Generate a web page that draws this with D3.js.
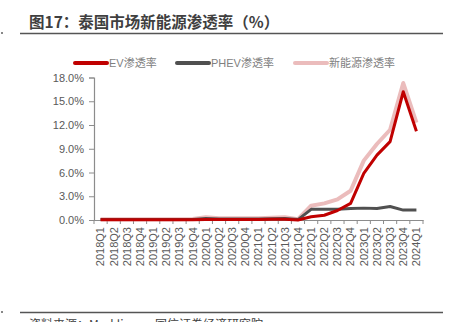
<!DOCTYPE html>
<html><head><meta charset="utf-8">
<script src="https://cdn.jsdelivr.net/npm/d3@7"></script>
<style>
html,body{margin:0;padding:0;background:#fff;}
svg{display:block;font-family:"Liberation Sans","Noto Sans CJK SC",Arial,sans-serif;}
</style></head>
<body>
<script>
const categories = ["2018Q1","2018Q2","2018Q3","2018Q4","2019Q1","2019Q2","2019Q3","2019Q4",
  "2020Q1","2020Q2","2020Q3","2020Q4","2021Q1","2021Q2","2021Q3","2021Q4",
  "2022Q1","2022Q2","2022Q3","2022Q4","2023Q1","2023Q2","2023Q3","2023Q4","2024Q1"];
const evValues   = [0.02,0.02,0.02,0.02,0.02,0.02,0.02,0.02,0.05,0.05,0.05,0.05,0.05,0.1,0.1,0.0,0.4,0.6,1.2,2.1,5.9,8.2,9.9,16.2,11.2];
const phevValues = [0.05,0.05,0.05,0.05,0.05,0.05,0.05,0.05,0.2,0.12,0.12,0.12,0.12,0.15,0.2,0.05,1.35,1.35,1.35,1.45,1.5,1.45,1.7,1.25,1.25];
const nevValues  = [0.1,0.1,0.1,0.1,0.1,0.1,0.1,0.12,0.35,0.22,0.22,0.22,0.22,0.3,0.35,0.1,1.8,2.1,2.6,3.7,7.5,9.6,11.4,17.3,12.3];
const yTicks = [0,3,6,9,12,15,18];
const seriesNames = ["EV渗透率","PHEV渗透率","新能源渗透率"];
const seriesColors = ["#c00000","#505050","#ebbcbc"];
const titleText = "图17：泰国市场新能源渗透率（%）";
const sourceText = "资料来源：Marklines，国信证券经济研究院";

const W = 457, H = 322;
const svg = d3.select("body").append("svg").attr("width", W).attr("height", H);

// Title
svg.append("text").attr("x", 29).attr("y", 28).text(titleText)
  .attr("font-size", 15.5).attr("font-weight", "bold").attr("fill", "#3f3f3f")
  .attr("font-family", "'Noto Sans CJK SC',sans-serif");
svg.append("line").attr("x1", 20).attr("x2", 443).attr("y1", 33.5).attr("y2", 33.5)
  .attr("stroke", "#555").attr("stroke-width", 1.5);
svg.append("rect").attr("x", 1).attr("y", 32).attr("width", 2).attr("height", 2).attr("fill", "#888");

// Footer
svg.append("line").attr("x1", 20).attr("x2", 443).attr("y1", 312.5).attr("y2", 312.5)
  .attr("stroke", "#555").attr("stroke-width", 1.5);
svg.append("rect").attr("x", 1).attr("y", 311).attr("width", 2).attr("height", 2).attr("fill", "#888");
svg.append("text").attr("x", 29).attr("y", 329).text(sourceText)
  .attr("font-size", 12).attr("fill", "#404040").attr("font-family", "'Noto Sans CJK SC',sans-serif");

// Scales
const x = d3.scaleBand().domain(categories).range([94, 423]).padding(0);
const y = d3.scaleLinear().domain([0, 18]).range([220, 77.5]);

// Y axis
const yAxis = svg.append("g").attr("transform", "translate(94,0)")
  .call(d3.axisLeft(y).tickValues(yTicks).tickFormat(d => d.toFixed(1) + "%").tickSize(5).tickPadding(5));
yAxis.select(".domain").attr("stroke", "#8c8c8c").attr("stroke-width", 1.2);
yAxis.selectAll(".tick line").attr("stroke", "#8c8c8c");
yAxis.selectAll(".tick text").attr("font-size", 11).attr("fill", "#595959")
  .attr("font-family", "'Liberation Sans',Arial,sans-serif");

// X axis
const xAxis = svg.append("g").attr("transform", "translate(0,220)")
  .call(d3.axisBottom(x).tickSize(0).tickPadding(0));
xAxis.select(".domain").attr("stroke", "#8c8c8c").attr("stroke-width", 1.2);
xAxis.selectAll(".tick text")
  .attr("font-size", 11).attr("fill", "#595959")
  .attr("font-family", "'Liberation Sans',Arial,sans-serif")
  .attr("transform", "rotate(-90)")
  .attr("text-anchor", "end")
  .attr("x", -7).attr("y", 0).attr("dy", "0.35em");
// boundary ticks
svg.append("g").selectAll("line").data(categories.concat(["_end"])).join("line")
  .attr("x1", (d, i) => x(categories[0]) + i * x.step())
  .attr("x2", (d, i) => x(categories[0]) + i * x.step())
  .attr("y1", 220).attr("y2", 224).attr("stroke", "#8c8c8c");

// Lines
const line = d3.line().x((d, i) => x(categories[i]) + x.bandwidth() / 2).y(d => y(d));
const series = [
  {vals: nevValues, color: seriesColors[2], w: 4},
  {vals: phevValues, color: seriesColors[1], w: 3},
  {vals: evValues, color: seriesColors[0], w: 3},
];
series.forEach(s => {
  svg.append("path").datum(s.vals).attr("d", line).attr("fill", "none")
    .attr("stroke", s.color).attr("stroke-width", s.w).attr("stroke-linejoin", "round");
});

// Legend
const legendItems = [
  {name: seriesNames[0], color: seriesColors[0], x: 75},
  {name: seriesNames[1], color: seriesColors[1], x: 177},
  {name: seriesNames[2], color: seriesColors[2], x: 295},
];
legendItems.forEach(it => {
  svg.append("line").attr("x1", it.x).attr("x2", it.x + 32).attr("y1", 63).attr("y2", 63)
    .attr("stroke", it.color).attr("stroke-width", 4).attr("stroke-linecap", "round");
  svg.append("text").attr("x", it.x + 34).attr("y", 67).text(it.name)
    .attr("font-size", 11).attr("fill", "#7f7f7f");
});
</script>
</body></html>
